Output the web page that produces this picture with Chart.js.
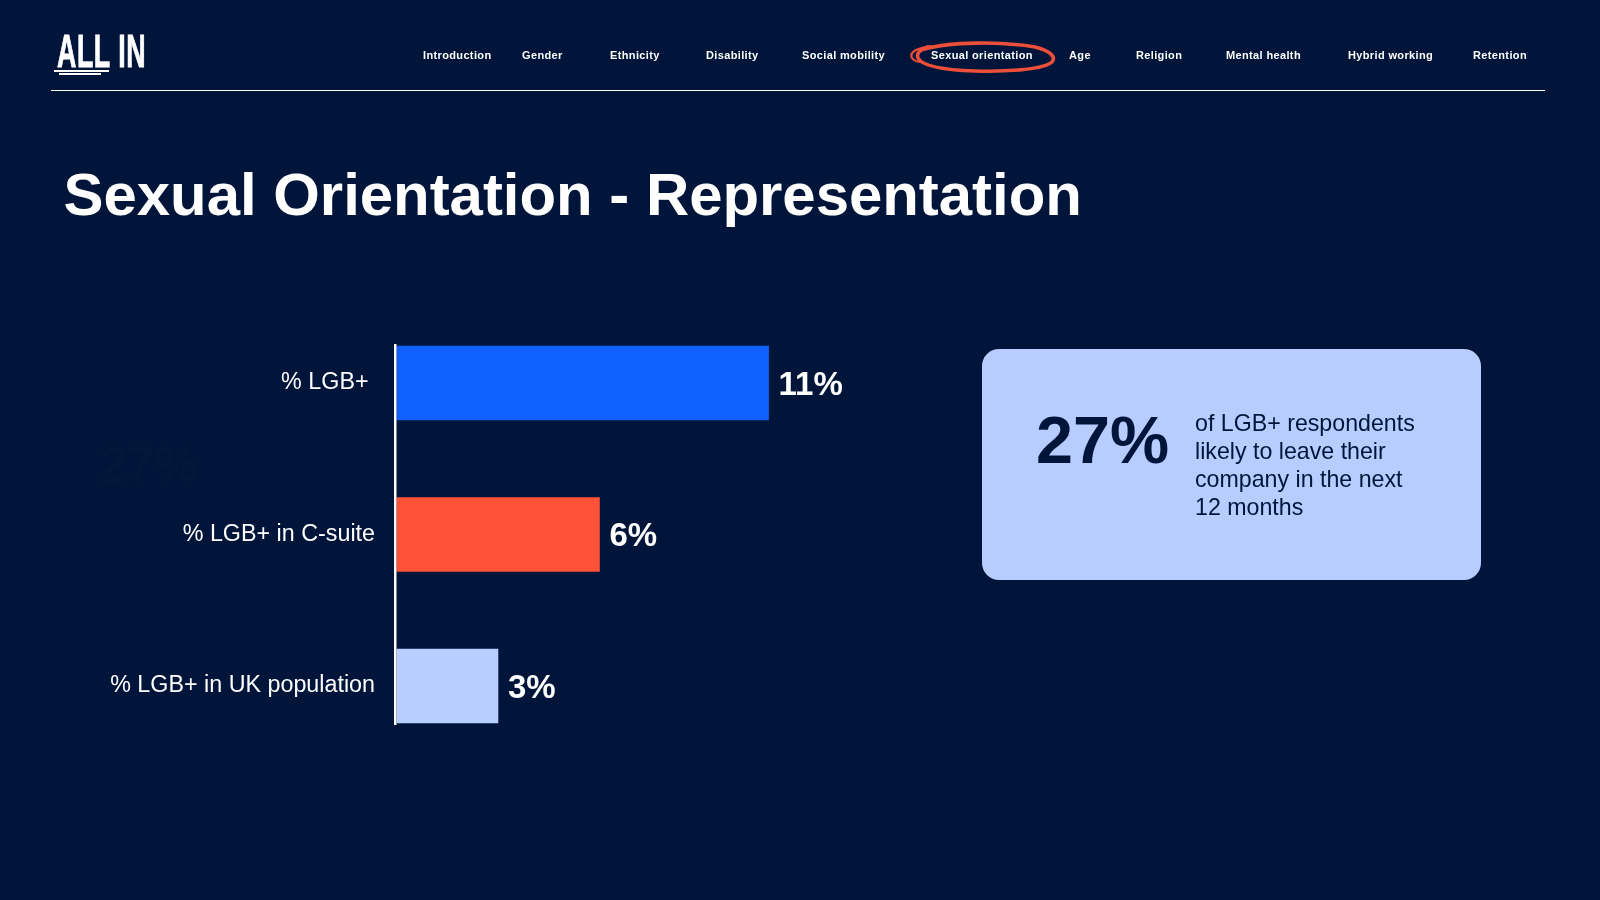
<!DOCTYPE html>
<html><head><meta charset="utf-8">
<script src="https://cdn.jsdelivr.net/npm/chart.js@4"></script>
<style>
html,body{margin:0;padding:0;width:1600px;height:900px;overflow:hidden;background:#001539;font-family:"Liberation Sans",Arial,sans-serif;color:#fff}
#c{position:absolute;left:0;top:0;width:1600px;height:900px}
.abs{position:absolute;white-space:nowrap}
.nav{top:49px;font-size:11px;font-weight:700;letter-spacing:.36px;line-height:13px}
#rule{left:51px;top:89.5px;width:1494px;height:1px;background:#fff}
#logo{left:57px;top:23px;font:700 47px/56px "Liberation Sans",sans-serif;transform-origin:0 50%;transform:scaleX(.57);-webkit-text-stroke:.9px #fff;letter-spacing:1px}
.ul{background:#fff;height:2px}
#title{left:63.5px;top:155.5px;font-size:59.9px;font-weight:700;line-height:78px}
#card{left:982px;top:349px;width:499px;height:231px;border-radius:17px;background:#B7CDFF}
#big{left:1036px;top:400px;font-size:66.5px;font-weight:700;line-height:80px;color:#001539}
#note{left:1195px;top:410px;font-size:23.2px;line-height:27.9px;color:#001539}
#ghost{left:99px;top:438px;font-size:50px;font-weight:700;line-height:54px;color:#02173A}
svg{position:absolute;left:0;top:0}
</style></head><body>
<canvas id="c" width="1600" height="900"></canvas>
<div class="abs" id="ghost">27%</div>
<div class="abs" id="logo">ALL IN</div>
<div class="abs ul" style="left:54px;top:70px;width:55px"></div>
<div class="abs ul" style="left:59px;top:72.5px;width:42px"></div>
<div id="navs"></div>
<div class="abs" id="rule"></div>
<svg width="1600" height="900"><g fill="none" stroke="#EE4F3A" stroke-linecap="round">
<path stroke-width="3.6" d="M925 49C950 42 1000 41 1035 47C1051 51 1056 57 1052 62C1044 69 1010 72 975 71C945 70 922 66 918 58C916 53 920 50 928 47"/>
<path stroke-width="2.2" d="M931 46C917 48 909 52 912 58C914 61 918 62 922 62"/>
</g></svg>
<div class="abs" id="title">Sexual Orientation - Representation</div>
<div class="abs" id="card"></div>
<div class="abs" id="big">27%</div>
<div class="abs" id="note">of LGB+ respondents<br>likely to leave their<br>company in the next<br>12 months</div>
<script>
const navLabels=["Introduction","Gender","Ethnicity","Disability","Social mobility","Sexual orientation","Age","Religion","Mental health","Hybrid working","Retention"];
const navX=[423,522,610,706,802,931,1069,1136,1226,1348,1473];
const categories=["% LGB+\u00A0","% LGB+ in C-suite","% LGB+ in UK population"];
const values=[11,6,3];
const barColors=["#1061FF","#FF5238","#B8CEFF"];

navLabels.forEach((t,i)=>{const d=document.createElement('div');d.className='abs nav';d.style.left=navX[i]+'px';d.textContent=t;document.getElementById('navs').appendChild(d);});

const extras={id:'extras',afterDatasetsDraw(chart){
  const {ctx}=chart,els=chart.getDatasetMeta(0).data;
  ctx.save();
  ctx.fillStyle='#fff';
  ctx.fillRect(chart.chartArea.left-2.5,els[0].y-39,2.5,els[2].y-els[0].y+78);
  ctx.font='700 33px "Liberation Sans"';ctx.textAlign='left';ctx.textBaseline='middle';
  els.forEach((e,i)=>ctx.fillText(values[i]+'%',e.x+10,e.y+2.5));
  ctx.restore();
}};
new Chart(document.getElementById('c'),{type:'bar',
 data:{labels:categories,datasets:[{data:values,backgroundColor:barColors,barThickness:74,borderWidth:0}]},
 options:{indexAxis:'y',responsive:false,animation:false,
  layout:{padding:{top:307.25,bottom:138.25,left:0,right:527}},
  plugins:{legend:{display:false},tooltip:{enabled:false}},
  scales:{
   x:{display:false,min:0,max:20},
   y:{afterFit(s){s.width=396.5},border:{display:false},grid:{display:false,drawTicks:false},
      ticks:{color:'#fff',padding:21.5,font:{family:'"Liberation Sans"',size:23.3}}}
  }},plugins:[extras]});
</script>
</body></html>
